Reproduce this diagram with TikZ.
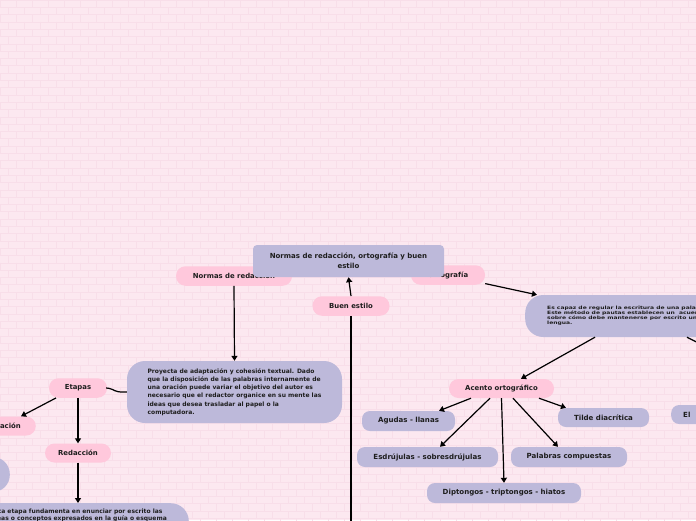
\documentclass[tikz,border=0pt]{standalone}
\usepackage{fontspec}
\setmainfont{DejaVu Sans}
\usetikzlibrary{arrows.meta,calc}
\definecolor{bgc}{HTML}{FCE8F0}
\definecolor{brickc}{HTML}{F8DEE9}
\definecolor{pinkc}{HTML}{FFC8DC}
\definecolor{lavc}{HTML}{BDB9DA}
\definecolor{txt}{HTML}{1E1E1E}
\tikzset{
  brick/.style={draw=brickc, line width=0.6pt},
  pinkn/.style={fill=pinkc, rounded corners=9.5pt, minimum height=19.5pt, inner xsep=4pt, inner ysep=0pt, text=txt, font=\bfseries\fontsize{6.9}{8}\selectfont},
  lavn/.style={fill=lavc, rounded corners=8pt, minimum height=20pt, inner xsep=4pt, inner ysep=0pt, text=txt, font=\bfseries\fontsize{7.05}{8}\selectfont},
  bigbox/.style={fill=lavc, rounded corners=18pt, align=left, inner ysep=4pt, text=txt, font=\bfseries\fontsize{6}{8.3}\selectfont},
  conn/.style={line width=1.2pt, draw=black},
  arr/.style={conn, -{Triangle[length=5pt,width=6pt]}},
}
\begin{document}
\begin{tikzpicture}[x=1pt,y=-1pt]
\clip (0,0) rectangle (696,520);
\fill[bgc] (0,0) rectangle (696,520);
\foreach \r in {0,...,71} {
  \pgfmathsetmacro\yy{\r*7.3}
  \pgfmathsetmacro\off{mod(\r,2)*8}
  \draw[brick] (0,\yy) -- (696,\yy);
  \foreach \c in {-1,...,44} {\draw[brick] ({\c*16+\off},\yy) -- ++(0,7.3);}
}
% top level
\node[pinkn, minimum width=116pt] (normas) at (234,276) {Normas de redacción};
\node[pinkn, minimum width=74pt] (orto) at (448,275) {Ortografía};
\node[fill=lavc, rounded corners=4pt, minimum width=191pt, minimum height=32pt, align=center, text=txt, font=\bfseries\fontsize{7}{10}\selectfont] (central) at (348.5,261) {Normas de redacción, ortografía y buen\\estilo};
\node[pinkn, minimum width=77pt] (buen) at (351,306) {Buen estilo};
% left branch
\node[bigbox, minimum width=215pt, minimum height=62pt] (proy) at (234.5,392) {Proyecta de adaptación y cohesión textual. Dado\\que la disposición de las palabras internamente de\\una oración puede variar el objetivo del autor es\\necesario que el redactor organice en su mente las\\ideas que desea trasladar al papel o la\\computadora.};
\node[pinkn, minimum width=58pt] (etapas) at (78,388) {Etapas};
\node[pinkn, anchor=east, inner xsep=15pt, minimum height=19pt] (plan) at (36,426) {Planificación};
\node[pinkn, minimum width=66pt, minimum height=19pt] (redac) at (78,453) {Redacción};
\node[fill=lavc, rounded corners=17pt, minimum width=90pt, minimum height=35pt, anchor=east] (blob) at (10,474.5) {};
\node[bigbox, anchor=north east, inner xsep=22pt, inner ysep=5.5pt, text depth=20pt, font=\bfseries\fontsize{6}{7.6}\selectfont] (esta) at (189,503) {Esta etapa fundamenta en enunciar por escrito las\\ideas o conceptos expresados en la guía o esquema};
% right branch
\node[bigbox, anchor=west, inner xsep=22pt, minimum height=42pt, font=\bfseries\fontsize{6}{6.3}\selectfont] (escapaz) at (525,316) {\raisebox{3.5pt}{\scalebox{1}[0.75]{\begin{tabular}{@{}l@{}}Es capaz de regular la escritura de una palabra.\\Este método de pautas establecen un\ \ acuerdo\\sobre cómo debe mantenerse por escrito una\\lengua.\end{tabular}}}};
\node[lavn, anchor=west, text width=40pt, align=left, inner xsep=12pt, minimum height=19pt] (el) at (671,414.5) {El};
\coordinate (offr) at (716,352);
\coordinate (offb) at (351,530);
\node[pinkn, minimum width=105pt, minimum height=19pt] (acento) at (501.5,388.5) {Acento ortográfico};
\node[lavn, minimum width=93pt] (agudas) at (408.5,421) {Agudas - llanas};
\node[lavn, minimum width=91pt, minimum height=19pt] (tilde) at (603.5,417.5) {Tilde diacrítica};
\node[lavn, minimum width=141pt] (esdr) at (427.5,457) {Esdrújulas - sobresdrújulas};
\node[lavn, minimum width=116pt] (pal) at (569,457) {Palabras compuestas};
\node[lavn, minimum width=154pt] (dipt) at (504,493) {Diptongos - triptongos - hiatos};
% connectors
\draw[arr] (normas.south) -- (proy.north);
\draw[arr] (buen.north) -- (central.south);
\draw[conn] (buen.south) -- (offb);
\draw[conn, rounded corners=3pt] (etapas.east) -- ++(2,0) -- ($(proy.west)+(-9,0)$) -- (proy.west);
\draw[arr] ([xshift=-22pt]etapas.south) -- ([xshift=-15pt]plan.north east);
\draw[arr] (etapas.south) -- (redac.north);
\draw[arr] (redac.south) -- ([xshift=-111pt]esta.north east);
\draw[arr] (orto.-13) -- ([xshift=12pt]escapaz.north west);
\draw[arr] ([xshift=70pt]escapaz.south west) -- ([xshift=19.5pt]acento.north);
\draw[arr] ([xshift=162pt]escapaz.south west) -- (offr);
\draw[arr] ([xshift=-30.5pt]acento.south) -- ([xshift=30.5pt]agudas.north);
\draw[arr] ([xshift=-11.5pt]acento.south) -- ([xshift=12.5pt]esdr.north);
\draw[arr] (acento.south) -- (dipt.north);
\draw[arr] ([xshift=11.5pt]acento.south) -- ([xshift=-11pt]pal.north);
\draw[arr] ([xshift=37.5pt]acento.south) -- ([xshift=-37.5pt]tilde.north);
\end{tikzpicture}
\end{document}
